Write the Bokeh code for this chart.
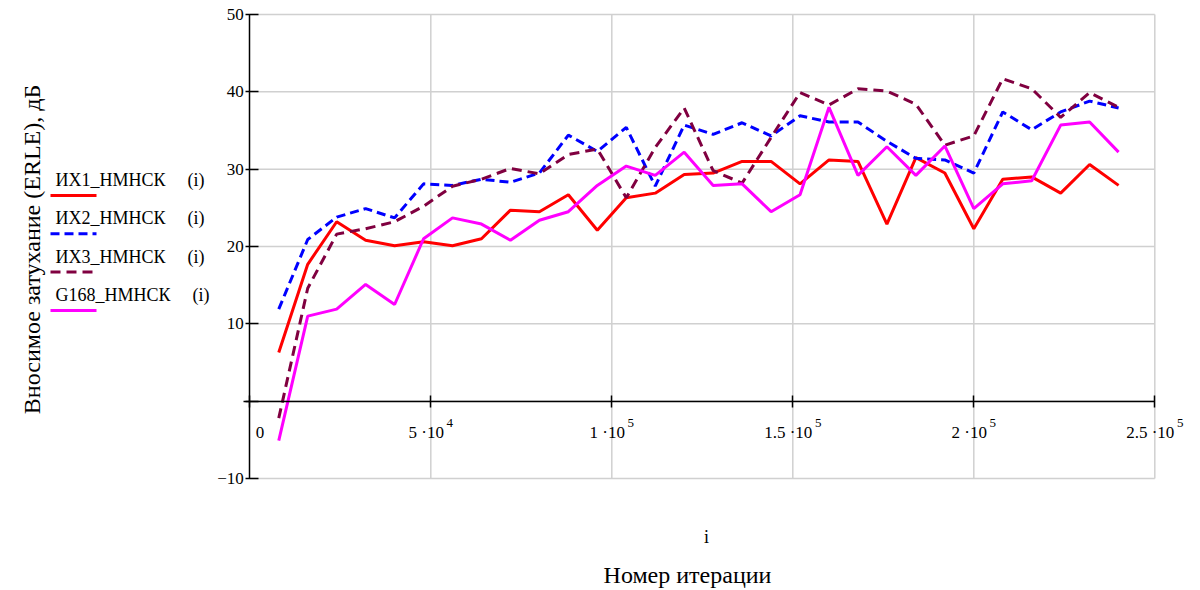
from bokeh.plotting import figure
from bokeh.models import Range1d, Label, Arrow, FixedTicker, LinearAxis, ColumnDataSource
from bokeh.core.properties import value
from bokeh.embed import file_html
from bokeh.resources import INLINE

# ---- data ----
iterations = [8000, 16000, 24000, 32000, 40000, 48000, 56000, 64000, 72000, 80000,
              88000, 96000, 104000, 112000, 120000, 128000, 136000, 144000, 152000, 160000,
              168000, 176000, 184000, 192000, 200000, 208000, 216000, 224000, 232000, 240000]

ih1 = [6.3, 17.7, 23.2, 20.8, 20.1, 20.6, 20.1, 21.0, 24.7, 24.5,
       26.7, 22.1, 26.3, 26.9, 29.3, 29.5, 31.0, 31.0, 28.1, 31.2,
       31.0, 22.9, 31.5, 29.5, 22.3, 28.7, 29.0, 26.9, 30.6, 27.9]
ih2 = [11.9, 20.9, 23.8, 24.9, 23.7, 28.1, 27.9, 28.7, 28.3, 29.5,
       34.4, 32.3, 35.4, 27.8, 35.7, 34.5, 36.0, 34.3, 36.9, 36.1,
       36.1, 33.6, 31.4, 31.2, 29.5, 37.4, 35.1, 37.4, 38.8, 37.9]
ih3 = [-2.2, 14.6, 21.6, 22.3, 23.2, 25.2, 27.8, 28.7, 30.1, 29.4,
       31.9, 32.6, 26.3, 32.8, 37.9, 29.8, 28.2, 34.1, 39.9, 38.3,
       40.4, 40.1, 38.4, 33.1, 34.3, 41.7, 40.4, 36.7, 39.9, 38.0]
g168 = [-5.1, 11.0, 11.9, 15.1, 12.5, 21.0, 23.7, 22.9, 20.8, 23.4,
        24.5, 27.9, 30.4, 29.2, 32.2, 27.9, 28.1, 24.5, 26.7, 38.0,
        29.2, 32.9, 29.2, 33.0, 24.9, 28.1, 28.5, 35.7, 36.1, 32.2]

series_names = ["ИХ1_НМНСК", "ИХ2_НМНСК", "ИХ3_НМНСК", "G168_НМНСК"]
series_values = [ih1, ih2, ih3, g168]

x_ticks = [0, 50000, 100000, 150000, 200000, 250000]
x_tick_base = ["0", "5 \u00b710", "1 \u00b710", "1.5 \u00b710", "2 \u00b710", "2.5 \u00b710"]
x_tick_exp = ["", "4", "5", "5", "5", "5"]
y_ticks = [-10, 0, 10, 20, 30, 40, 50]
y_tick_labels = ["\u221210", "", "10", "20", "30", "40", "50"]

x_title = "Номер итерации"
x_var = "i"
y_title = "Вносимое затухание (ERLE), дБ"

# ---- layout (pixels) ----
W, H = 1200, 590
PX_L, PX_R, PX_T, PX_B = 249.3, 1154.3, 14.0, 478.0
X0, X1, Y0, Y1 = 0, 250000, -10, 50
kx = (X1 - X0) / (PX_R - PX_L)
ky = (Y1 - Y0) / (PX_B - PX_T)

colors = ["#ff0000", "#0000ff", "#800040", "#ff00ff"]
dashes = ["solid", "9 5", "10 6", "solid"]
FONT = "Liberation Serif"
TICK_PX = 17
EXP_PX = 13

p = figure(width=W, height=H,
           x_range=Range1d(X0 - PX_L * kx, X1 + (W - PX_R) * kx),
           y_range=Range1d(Y0 - (H - PX_B) * ky, Y1 + PX_T * ky),
           output_backend="svg", toolbar_location=None,
           x_axis_location=None, y_axis_location=None,
           min_border_left=0, min_border_right=0, min_border_top=0, min_border_bottom=0,
           background_fill_color="white", border_fill_color="white",
           outline_line_color=None)
p.grid.visible = False

# grid lines drawn from the tick lists
p.segment(x0=x_ticks[1:], y0=Y0, x1=x_ticks[1:], y1=Y1, line_color="#d0d0d0", line_width=1.5)
p.segment(x0=X0, y0=y_ticks, x1=X1, y1=y_ticks, line_color="#d0d0d0", line_width=1.5)

for vals, c, d in zip(series_values, colors, dashes):
    p.line(iterations, vals, line_color=c, line_width=3, line_dash=d)

# axes crossing at zero
xax = LinearAxis(ticker=FixedTicker(ticks=x_ticks), fixed_location=0,
                 bounds=(X0 - 6 * kx, X1), major_label_text_alpha=0,
                 major_label_overrides={t: "" for t in x_ticks})
xax.major_tick_in = 6
xax.major_tick_out = 6
yax = LinearAxis(ticker=FixedTicker(ticks=y_ticks), fixed_location=0,
                 bounds=(Y0, Y1),
                 major_label_overrides={t: l for t, l in zip(y_ticks, y_tick_labels)})
yax.major_tick_in = 9
yax.major_tick_out = 4
yax.major_label_standoff = 2
for ax in (xax, yax):
    ax.axis_line_color = "black"
    ax.axis_line_width = 1.5
    ax.major_tick_line_color = "black"
    ax.major_tick_line_width = 1.5
    ax.minor_tick_line_color = None
    ax.major_label_text_font = FONT
    ax.major_label_text_font_size = f"{TICK_PX}px"
    ax.major_label_text_color = "black"
p.add_layout(xax, "below")
p.add_layout(yax, "left")

# x tick labels with raised exponent, centred on the tick
def text_w(s, size):
    narrow = {".": 0.25, " ": 0.25, "\u00b7": 0.25}
    return sum(narrow.get(ch, 0.5) for ch in s) * size

GAP = 4
bx, ex = [], []
for t, b, e in zip(x_ticks, x_tick_base, x_tick_exp):
    wb = text_w(b, TICK_PX)
    we = (GAP + text_w(e, EXP_PX)) if e else 0
    left = -(wb + we) / 2
    if t == X0:
        left = 6
    bx.append(left)
    ex.append(left + wb + GAP)
tick_src = ColumnDataSource(dict(x=x_ticks, base=x_tick_base, exp=x_tick_exp, bx=bx, ex=ex))
p.text(x="x", y=0, text="base", source=tick_src, x_offset="bx", y_offset=31.7,
       text_align="left", text_baseline="alphabetic", text_font=value(FONT),
       text_font_size=f"{TICK_PX}px", text_color="black")
p.text(x="x", y=0, text="exp", source=tick_src, x_offset="ex", y_offset=22,
       text_align="left", text_baseline="alphabetic", text_font=value(FONT),
       text_font_size=f"{EXP_PX}px", text_color="black")

def scr_y(canvas_y):
    return H - canvas_y

# axis titles (y given as visual centre of the text)
p.add_layout(Label(x=31.5, y=scr_y(249), x_units="screen", y_units="screen",
                   text=y_title, angle=90, angle_units="deg",
                   text_align="center", text_baseline="middle",
                   text_font=FONT, text_font_size="24px", text_color="black"))
p.add_layout(Label(x=706, y=scr_y(536.5), x_units="screen", y_units="screen", text=x_var,
                   text_align="center", text_baseline="middle",
                   text_font=FONT, text_font_size="18px", text_color="black"))
p.add_layout(Label(x=687, y=scr_y(574.5), x_units="screen", y_units="screen", text=x_title,
                   text_align="center", text_baseline="middle",
                   text_font=FONT, text_font_size="24px", text_color="black"))

# legend: name above a line sample
leg_mid = [179.5, 217.8, 256.1, 294.4]
paren_x = [187, 187, 187, 192]
for name, c, d, ym, px in zip(series_names, colors, dashes, leg_mid, paren_x):
    p.add_layout(Label(x=55, y=scr_y(ym), x_units="screen", y_units="screen", text=name,
                       text_align="left", text_baseline="middle",
                       text_font=FONT, text_font_size="18px", text_color="black"))
    p.add_layout(Label(x=px, y=scr_y(ym), x_units="screen", y_units="screen", text="(i)",
                       text_align="left", text_baseline="middle",
                       text_font=FONT, text_font_size="18px", text_color="black"))
    p.add_layout(Arrow(x_start=50, y_start=scr_y(ym + 15.5), x_end=96, y_end=scr_y(ym + 15.5),
                       start_units="screen", end_units="screen", start=None, end=None,
                       line_color=c, line_width=3, line_dash=d))

open("out.html", "w").write(file_html(p, INLINE))
